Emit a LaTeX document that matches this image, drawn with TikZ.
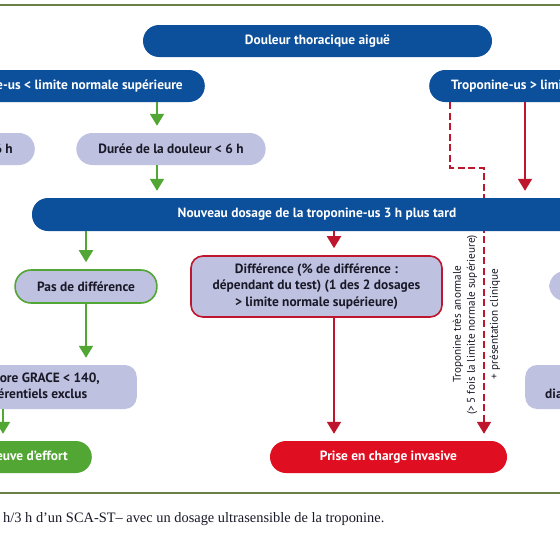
\documentclass[tikz,border=0pt]{standalone}
\usepackage{fontspec}
\setmainfont{Liberation Serif}
\newfontfamily\boxfont{PT Sans}
\usetikzlibrary{arrows.meta,calc}
\pgfdeclarelayer{bg}
\pgfsetlayers{bg,main}
\definecolor{tblue}{RGB}{12,79,154}
\definecolor{lav}{RGB}{191,193,224}
\definecolor{tgreen}{RGB}{82,166,52}
\definecolor{tred}{RGB}{224,14,33}
\definecolor{dred}{RGB}{190,22,45}
\definecolor{olive}{RGB}{106,128,70}
\definecolor{txt}{RGB}{25,25,40}
\tikzset{
  boxtext/.style={font=\boxfont\bfseries\fontsize{13.4}{16.5}\selectfont},
  pill/.style={boxtext, rounded corners=16pt, minimum height=32pt, inner xsep=22pt, inner ysep=0pt, align=center},
  bluepill/.style={pill, fill=tblue, text=white},
  lavpill/.style={pill, fill=lav, text=txt},
  lavrect/.style={boxtext, rounded corners=12pt, fill=lav, text=txt, align=center, inner ysep=0pt},
  garrow/.style={draw=tgreen, line width=2pt, -{Triangle[width=14pt,length=12pt]}, shorten >=7pt},
  rarrow/.style={draw=dred, line width=2pt, -{Triangle[width=14pt,length=12pt]}, shorten >=7pt},
  darrow/.style={draw=dred, line width=2pt, dash pattern=on 7pt off 3.5pt, -{Triangle[width=14pt,length=12pt]}, shorten >=7pt},
  sidelabel/.style={font=\boxfont\fontsize{11.2}{13}\selectfont, text=txt, rotate=90, inner sep=0pt},
  rule/.style={draw=olive, line width=2.2pt}
}
\begin{document}
\begin{tikzpicture}[x=1pt,y=-1pt]
\begin{pgfonlayer}{bg}
\path[use as bounding box, fill=white] (0,0) rectangle (560,533);
\end{pgfonlayer}
\clip (0,0) rectangle (560,533);

\coordinate (r1a) at (0,5);
\coordinate (r1b) at (560,5);
\coordinate (r2a) at (0,493);
\coordinate (r2b) at (560,493);
\draw[rule] (r1a) -- (r1b);
\draw[rule] (r2a) -- (r2b);

\node[bluepill, minimum width=349pt] (douleur) at (317.5,41) {Douleur thoracique aiguë};
\node[bluepill, anchor=east] (tropL) at (205,86) {Troponine-us < limite normale supérieure};
\node[bluepill, anchor=west] (tropR) at (429,86) {Troponine-us > limite normale supérieure};

\node[lavpill, anchor=east] (durL) at (35,149) {Durée de la douleur > 6 h};
\node[lavpill, minimum width=188pt] (durR) at (171,149) {Durée de la douleur < 6 h};

\node[bluepill, minimum width=570pt, minimum height=33pt] (nouveau) at (317,214.5) {Nouveau dosage de la troponine-us 3 h plus tard};

\node[lavpill, draw=tgreen, line width=1.6pt, minimum width=132pt, minimum height=33pt] (pasL) at (86,286.5) {Pas de différence};
\node[lavrect, draw=dred, line width=1.6pt, minimum width=251pt, minimum height=61pt] (diff) at (316.5,286.5) {Différence (\% de différence :\\dépendant du test) (1 des 2 dosages\\> limite normale supérieure)};
\node[lavpill, anchor=west, minimum height=30pt] (pasR) at (549,286) {Pas de différence};

\node[lavrect, anchor=east, minimum height=44pt, inner xsep=37pt] (grace) at (137,387) {Pas de douleur, score GRACE < 140,\\diagnostics différentiels exclus};
\node[lavrect, anchor=west, minimum height=44pt, inner xsep=20pt] (diagR) at (525,387) {Bilan des\\diagnostics différentiels};

\node[pill, fill=tgreen, text=white, anchor=east, inner xsep=24pt] (effort) at (92,457) {Sortie/épreuve d’effort};
\node[pill, fill=tred, text=white, minimum width=237pt] (prise) at (388.5,457) {Prise en charge invasive};

\node[sidelabel] (lab1) at (458,324) {Troponine très anormale};
\node[sidelabel] (lab2) at (472,325) {(> 5 fois la limite normale supérieure)};
\node[sidelabel] (lab3) at (495,324) {+ présentation clinique};

\node[anchor=west, inner sep=0pt, font=\fontsize{14.4}{16}\selectfont, text=txt] (caption) at (3,519) {h/3 h d’un SCA-ST– avec un dosage ultrasensible de la troponine.};

% connectors
\coordinate (xg1) at (157,0);
\coordinate (xg2) at (86,0);
\coordinate (xg3) at (3,0);
\coordinate (xr1) at (334,0);
\coordinate (xr2) at (525,0);
\coordinate (dk1) at (450,168);
\coordinate (dk2) at (484,168);

\draw[garrow] (tropL.south -| xg1) -- (durR.north -| xg1);
\draw[garrow] (durR.south -| xg1) -- (nouveau.north -| xg1);
\draw[garrow] (nouveau.south -| xg2) -- (pasL.north);
\draw[garrow] (pasL.south) -- (grace.north -| xg2);
\draw[garrow] (grace.south -| xg3) -- (effort.north -| xg3);
\draw[rarrow] (tropR.south -| xr2) -- (nouveau.north -| xr2);
\draw[rarrow] (nouveau.south -| xr1) -- (diff.north -| xr1);
\draw[rarrow] (diff.south -| xr1) -- (prise.north -| xr1);
\begin{pgfonlayer}{bg}
\draw[darrow] (tropR.south -| dk1) -- (dk1) -- (dk2) -- (prise.north -| dk2);
\end{pgfonlayer}
\end{tikzpicture}
\end{document}
